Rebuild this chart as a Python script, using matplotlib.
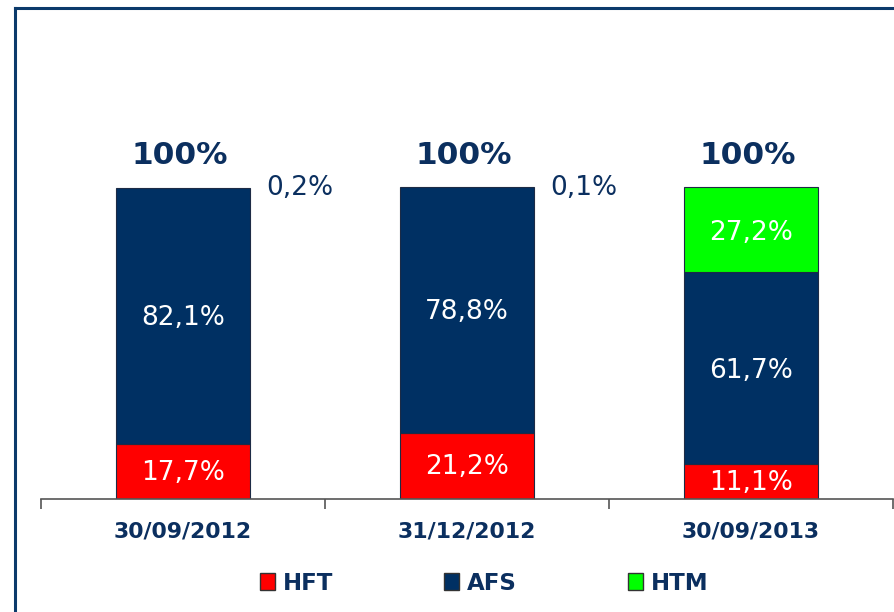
import matplotlib
matplotlib.use("Agg")
import matplotlib.pyplot as plt
from matplotlib.lines import Line2D
from matplotlib.patches import Patch
import numpy as np

dates = ["30/09/2012", "31/12/2012", "30/09/2013"]
hft = [17.7, 21.2, 11.1]
afs = [82.1, 78.8, 61.7]
htm = [0.2, 0.1, 27.2]
htm_labels = ["0,2%", "0,1%", "27,2%"]
hft_labels = ["17,7%", "21,2%", "11,1%"]
afs_labels = ["82,1%", "78,8%", "61,7%"]
totals = ["100%", "100%", "100%"]

NAVY = "#003063"
RED = "#ff0000"
GREEN = "#00ff00"
TXT = "#0b2f5f"

fig = plt.figure(figsize=(8.95, 6.12), dpi=100)
ax = fig.add_axes([41 / 895, 1 - 499 / 612, 852 / 895, (499 - 93.4) / 612])

x = np.arange(len(dates))
w = 0.475
ec = "#1d2b45"
ax.bar(x, hft, w, color=RED, edgecolor=ec, lw=0.8)
ax.bar(x, afs, w, bottom=hft, color=NAVY, edgecolor=ec, lw=0.8)
# HTM only drawn where it's visible (the 0.2/0.1 slivers are labelled outside)
ax.bar(x[2], htm[2], w, bottom=hft[2] + afs[2], color=GREEN, edgecolor=ec, lw=0.8)

for i in range(len(dates)):
    ax.text(x[i], hft[i] / 2 - 0.5, hft_labels[i], ha="center", va="center", color="white", fontsize=19)
    ax.text(x[i], hft[i] + afs[i] / 2 - 0.8, afs_labels[i], ha="center", va="center", color="white", fontsize=19)
    if htm[i] > 5:
        ax.text(x[i], hft[i] + afs[i] + htm[i] / 2 - 1.0, htm_labels[i], ha="center", va="center",
                color="white", fontsize=19)
    else:
        ax.text(x[i] + 0.41, 99.7, htm_labels[i], ha="center", va="center", color=TXT, fontsize=19)
    ax.text(x[i] - 0.01, 110.0, totals[i], ha="center", va="center", color=TXT,
            fontsize=22.5, fontweight="bold")

ax.set_xlim(-0.5, 2.5)
ax.set_ylim(0, 130)
for s in ["top", "left", "right"]:
    ax.spines[s].set_visible(False)
ax.spines["bottom"].set_color("#555555")
ax.spines["bottom"].set_linewidth(1.2)
ax.set_yticks([])
ax.set_xticks([-0.5, 0.5, 1.5, 2.5])
ax.set_xticklabels([])
ax.tick_params(axis="x", direction="out", length=7, color="#555555", width=1.2)
for i, d in enumerate(dates):
    ax.text(x[i], -10.3, d, ha="center", va="center", color=TXT, fontsize=15.8, fontweight="bold")

handles = [Patch(facecolor=RED, edgecolor="#333333"), Patch(facecolor=NAVY, edgecolor="#333333"),
           Patch(facecolor=GREEN, edgecolor="#333333")]
leg = fig.legend(handles, ["HFT", "AFS", "HTM"], loc="center", bbox_to_anchor=(0.541, 1 - 583 / 612),
                 ncol=3, frameon=False, handlelength=0.65, handleheight=0.7, handletextpad=0.35,
                 columnspacing=4.85, prop={"size": 16.5, "weight": "bold"})
for t in leg.get_texts():
    t.set_color(TXT)

# outer frame, only left and top edges fall inside the picture
fig.add_artist(Line2D([15 / 895, 15 / 895], [0, 1 - 8 / 612], color="#0b3a6b", lw=2.2))
fig.add_artist(Line2D([15 / 895, 1], [1 - 8 / 612, 1 - 8 / 612], color="#0b3a6b", lw=2.2))

fig.savefig("out.png", dpi=100)
